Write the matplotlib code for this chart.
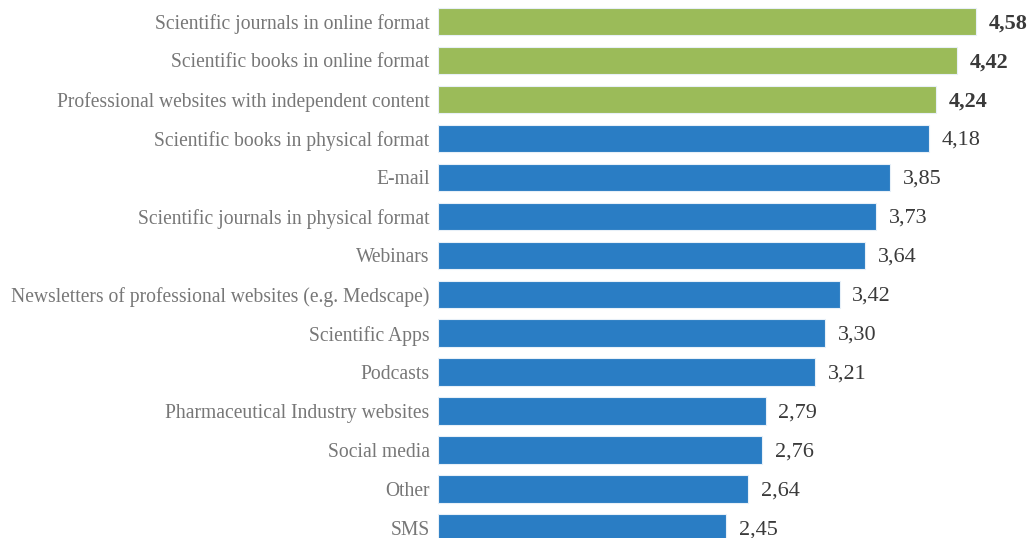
import matplotlib
matplotlib.use('Agg')
import matplotlib.pyplot as plt

# Information sources, mean rating (1-5)
sources = [
    "Scientific journals in online format",
    "Scientific books in online format",
    "Professional websites with independent content",
    "Scientific books in physical format",
    "E-mail",
    "Scientific journals in physical format",
    "Webinars",
    "Newsletters of professional websites (e.g. Medscape)",
    "Scientific Apps",
    "Podcasts",
    "Pharmaceutical Industry websites",
    "Social media",
    "Other",
    "SMS",
]
scores = [4.58, 4.42, 4.24, 4.18, 3.85, 3.73, 3.64, 3.42, 3.30, 3.21, 2.79, 2.76, 2.64, 2.45]
n_top = 3  # highlighted leaders

GREEN = '#9bbb59'
BLUE = '#2a7dc4'

plt.rcParams['font.family'] = ['Liberation Serif', 'DejaVu Serif']

fig = plt.figure(figsize=(10.32, 5.38), dpi=100)
ax = fig.add_axes([438 / 1032, 0, 594 / 1032, 1])

ypos = list(range(len(sources)))
colors = [GREEN if i < n_top else BLUE for i in ypos]
ax.barh(ypos, scores, height=0.70, color=colors, edgecolor='#e8f0f8', linewidth=0.8)

for i, v in enumerate(scores):
    ax.text(v + 0.11, i + 0.05, f"{v:.2f}".replace('.', ','), va='center', ha='left',
            fontsize=16, color='#3a3a3a',
            fontweight='bold' if i < n_top else 'normal')

ax.set_yticks(ypos)
ax.set_yticklabels(sources, fontsize=14.1, color='#777777')
ax.tick_params(axis='y', length=0, pad=6)
ax.set_xticks([])
ax.set_xlim(0, 594 / 117.4)
ax.set_ylim(13.26, -0.553)
for s in ax.spines.values():
    s.set_visible(False)

fig.savefig('out.png', dpi=100)
